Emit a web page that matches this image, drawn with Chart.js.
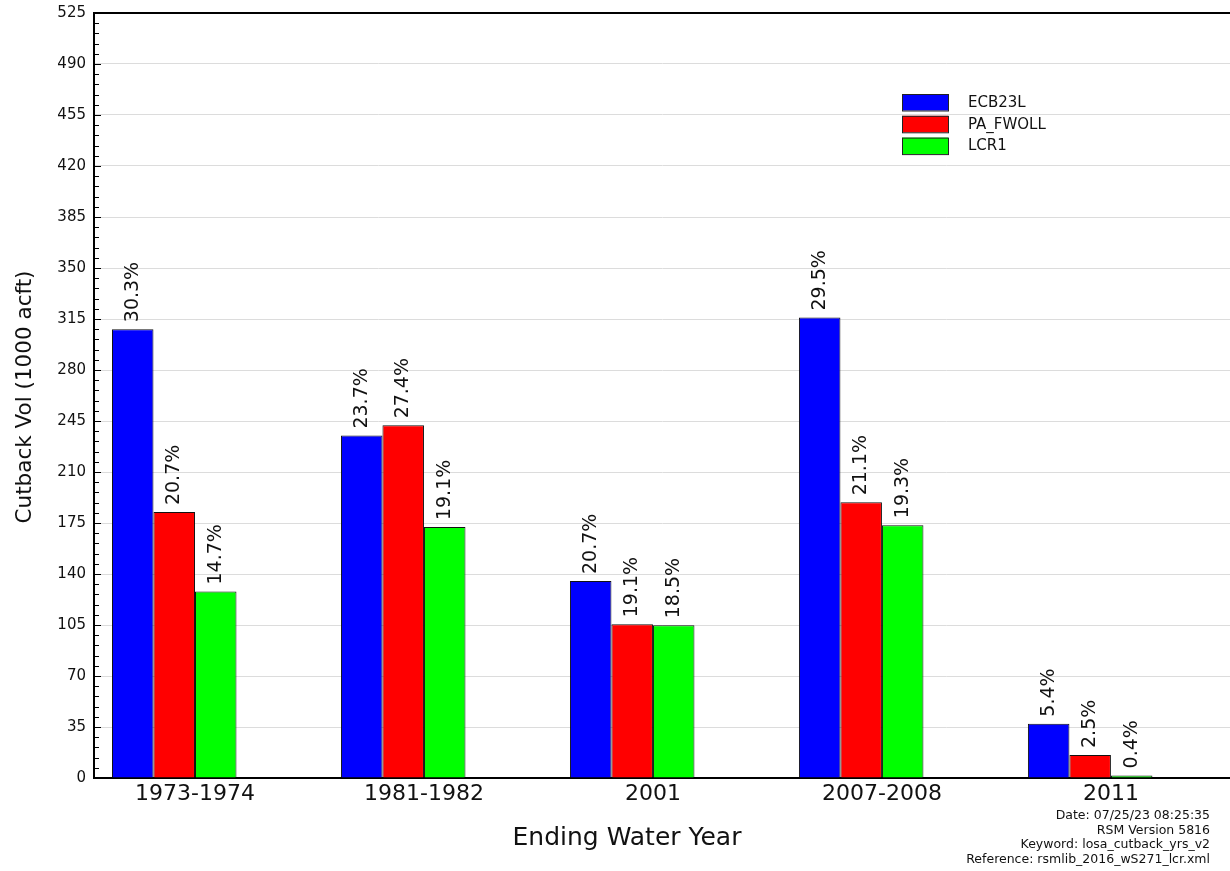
<!DOCTYPE html>
<html>
<head>
<meta charset="utf-8">
<title>Cutback Vol by Ending Water Year</title>
<script src="https://cdn.jsdelivr.net/npm/chart.js@4.4.1/dist/chart.umd.min.js"></script>
<style>
    body { margin: 0; background: #fff; }
    #wrap { width: 1230px; height: 871px; }
</style>
</head>
<body>
<div id="wrap"><canvas id="cutbackChart" width="1230" height="871"></canvas></div>
<script>
// Data
const categories = ['1973-1974', '1981-1982', '2001', '2007-2008', '2011'];
const ecb23l = [308, 235, 135.2, 316, 37.3];
const paFwoll = [182.5, 242, 105.5, 189.2, 15.8];
const lcr1 = [128, 172.2, 104.8, 173.5, 1.8];

const ecbPct = ['30.3%', '23.7%', '20.7%', '29.5%', '5.4%'];
const paPct = ['20.7%', '27.4%', '19.1%', '21.1%', '2.5%'];
const lcrPct = ['14.7%', '19.1%', '18.5%', '19.3%', '0.4%'];

const yTicks = { min: 0, max: 525, step: 35, minor: 7 };

const footer = [
    'Date: 07/25/23 08:25:35',
    'RSM Version 5816',
    'Keyword: losa_cutback_yrs_v2',
    'Reference: rsmlib_2016_wS271_lcr.xml'
];

const FONT = '"DejaVu Sans", sans-serif';

function toPoints(values) {
    return values.map((v, i) => ({ x: i, y: v }));
}

// Percent labels above each bar, minor ticks, frame, legend and footer
const extrasPlugin = {
    id: 'extras',
    afterDatasetsDraw(chart) {
        const ctx = chart.ctx;
        const area = chart.chartArea;
        const yScale = chart.scales.y;
        const pctLists = [ecbPct, paPct, lcrPct];

        ctx.save();
        ctx.fillStyle = '#111';
        ctx.font = '19px ' + FONT;
        ctx.textAlign = 'left';
        ctx.textBaseline = 'alphabetic';
        pctLists.forEach((list, di) => {
            const meta = chart.getDatasetMeta(di);
            meta.data.forEach((bar, i) => {
                ctx.save();
                ctx.translate(bar.x + 5, bar.y - 7);
                ctx.rotate(-Math.PI / 2);
                ctx.fillText(list[i], 0, 0);
                ctx.restore();
            });
        });

        // inward ticks on the left axis
        ctx.strokeStyle = '#000';
        ctx.lineWidth = 1;
        for (let v = yTicks.min; v <= yTicks.max; v += yTicks.minor) {
            const py = Math.round(yScale.getPixelForValue(v)) + 0.5;
            const len = (v % yTicks.step === 0) ? 7 : 5;
            ctx.beginPath();
            ctx.moveTo(area.left, py);
            ctx.lineTo(area.left + len, py);
            ctx.stroke();
        }

        // top frame line
        ctx.lineWidth = 2;
        ctx.beginPath();
        ctx.moveTo(area.left - 1, area.top);
        ctx.lineTo(area.right, area.top);
        ctx.stroke();

        // legend
        const names = chart.data.datasets.slice(0, 3);
        names.forEach((ds, i) => {
            const top = 94 + i * 21.8;
            ctx.fillStyle = ds.backgroundColor;
            ctx.fillRect(902, top, 46, 16.5);
            ctx.lineWidth = 1;
            ctx.strokeStyle = '#222';
            ctx.strokeRect(902.5, top + 0.5, 46, 16.5);
            ctx.fillStyle = '#111';
            ctx.font = '15px ' + FONT;
            ctx.textBaseline = 'middle';
            ctx.fillText(ds.label, 968, top + 9);
        });

        // axis titles
        ctx.fillStyle = '#111';
        ctx.textAlign = 'center';
        ctx.textBaseline = 'middle';
        ctx.font = '25px ' + FONT;
        ctx.fillText('Ending Water Year', 627, 838);
        ctx.save();
        ctx.translate(25, 397);
        ctx.rotate(-Math.PI / 2);
        ctx.font = '21.5px ' + FONT;
        ctx.fillText('Cutback Vol (1000 acft)', 0, 0);
        ctx.restore();

        // footer notes
        ctx.textAlign = 'right';
        ctx.font = '12.5px ' + FONT;
        footer.forEach((line, i) => {
            ctx.fillText(line, 1210, 816 + i * 14.5);
        });
        ctx.restore();
    }
};

document.addEventListener('DOMContentLoaded', function() {
    const ctx = document.getElementById('cutbackChart').getContext('2d');
    new Chart(ctx, {
        type: 'bar',
        data: {
            datasets: [{
                label: 'ECB23L',
                data: toPoints(ecb23l),
                backgroundColor: '#0000ff'
            }, {
                label: 'PA_FWOLL',
                data: toPoints(paFwoll),
                backgroundColor: '#ff0000'
            }, {
                label: 'LCR1',
                data: toPoints(lcr1),
                backgroundColor: '#00ff00'
            }, {
                // empty slot so the tick sits where the original puts it
                label: '',
                data: categories.map((c, i) => ({ x: i, y: null })),
                backgroundColor: 'rgba(0,0,0,0)',
                borderWidth: 0
            }]
        },
        options: {
            responsive: false,
            animation: false,
            devicePixelRatio: 1,
            layout: {
                padding: { top: 13, right: 0, bottom: 0, left: 0 }
            },
            datasets: {
                bar: {
                    borderColor: '#111',
                    borderWidth: 1,
                    barPercentage: 1,
                    categoryPercentage: 0.725
                }
            },
            scales: {
                x: {
                    type: 'linear',
                    offset: false,
                    min: -0.441,
                    max: 4.52,
                    afterBuildTicks: function(scale) {
                        scale.ticks = categories.map((c, i) => ({ value: i }));
                    },
                    afterFit: function(scale) {
                        scale.height = 93;
                        scale.paddingLeft = 0;
                        scale.paddingRight = 0;
                    },
                    grid: { display: false, drawTicks: false },
                    border: { display: true, color: '#000', width: 2 },
                    ticks: {
                        autoSkip: false,
                        maxRotation: 0,
                        padding: 3,
                        color: '#111',
                        font: { family: FONT, size: 22 },
                        callback: function(value) {
                            return categories[value];
                        }
                    }
                },
                y: {
                    min: yTicks.min,
                    max: yTicks.max,
                    afterFit: function(scale) {
                        scale.width = 94;
                        scale.paddingTop = 0;
                        scale.paddingBottom = 0;
                    },
                    grid: { color: '#dcdcdc', lineWidth: 1, drawTicks: false },
                    border: { display: true, color: '#000', width: 2 },
                    ticks: {
                        stepSize: yTicks.step,
                        padding: 8,
                        color: '#111',
                        font: { family: FONT, size: 15 }
                    }
                }
            },
            plugins: {
                legend: { display: false },
                tooltip: { enabled: false }
            }
        },
        plugins: [extrasPlugin]
    });
});
</script>
</body>
</html>
